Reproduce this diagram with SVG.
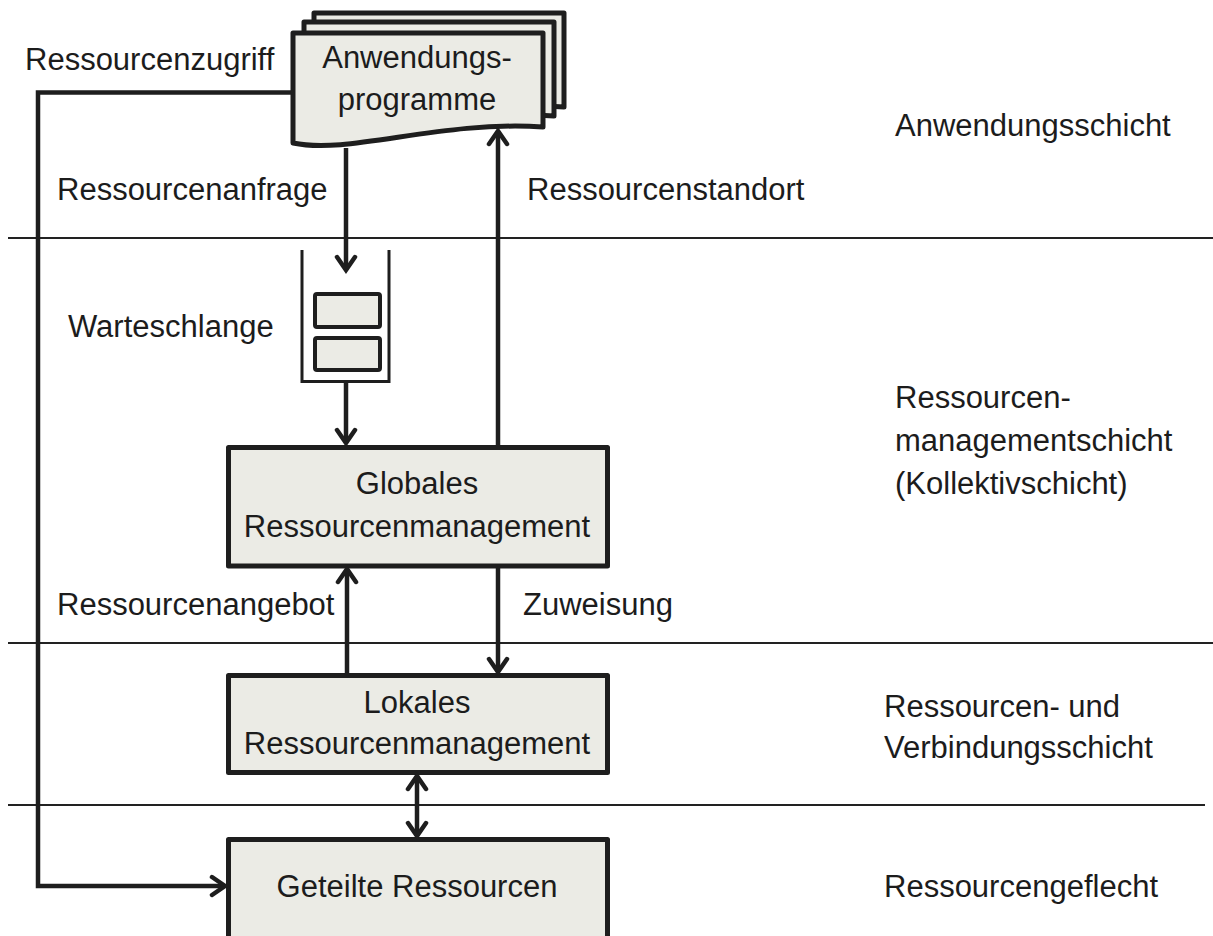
<svg xmlns="http://www.w3.org/2000/svg" width="1213" height="936" viewBox="0 0 1213 936">
<style>
  text { font-family: "Liberation Sans", Arial, sans-serif; font-size: 31px; fill: #1c1c1c; }
  .c { text-anchor: middle; }
  .box { fill: #ebebe5; stroke: #1e1e1e; stroke-width: 5; stroke-linejoin: round; }
  .sep { stroke: #222; stroke-width: 2; fill: none; }
  .conn { stroke: #1e1e1e; stroke-width: 4.5; fill: none; }
  .qbox { fill: #ebebe5; stroke: #1e1e1e; stroke-width: 4; }
  .q { stroke: #1e1e1e; stroke-width: 3; fill: none; }
</style>
<defs>
  <marker id="ah" markerUnits="userSpaceOnUse" viewBox="-16 -12 20 24" refX="0" refY="0" markerWidth="20" markerHeight="24" orient="auto-start-reverse">
    <path d="M-13,-9 L0,0 L-13,9" fill="none" stroke="#1e1e1e" stroke-width="4.5" stroke-linejoin="miter" stroke-linecap="round"/>
  </marker>
</defs>

<g id="layer-lines">
  <line class="sep" x1="8" y1="238" x2="1213" y2="238"/>
  <line class="sep" x1="8" y1="643" x2="1213" y2="643"/>
  <line class="sep" x1="8" y1="805" x2="1205" y2="805"/>
</g>

<g id="layer-labels">
  <text x="895" y="136">Anwendungsschicht</text>
  <text x="895" y="408">Ressourcen-</text>
  <text x="895" y="451">managementschicht</text>
  <text x="895" y="494">(Kollektivschicht)</text>
  <text x="884" y="717">Ressourcen- und</text>
  <text x="884" y="758">Verbindungsschicht</text>
  <text x="884" y="897">Ressourcengeflecht</text>
</g>

<g id="anwendungsprogramme">
  <path class="box" transform="translate(21,-20)" d="M293,33 H543 V127 C440,120 350,155 293,143 Z"/>
  <path class="box" transform="translate(11,-11)" d="M293,33 H543 V127 C440,120 350,155 293,143 Z"/>
  <path class="box" d="M293,33 H543 V127 C440,120 350,155 293,143 Z"/>
  <text class="c" x="417" y="68">Anwendungs-</text>
  <text class="c" x="417" y="110">programme</text>
</g>

<g id="warteschlange">
  <path class="q" d="M302,250 V381.5 H389 V250"/>
  <rect class="qbox" x="315" y="294" width="65" height="33" rx="2"/>
  <rect class="qbox" x="315" y="338" width="65" height="32" rx="2"/>
  <text x="68" y="337">Warteschlange</text>
</g>

<g id="globales">
  <rect class="box" x="228.5" y="447.5" width="379" height="118.5"/>
  <text class="c" x="417" y="494">Globales</text>
  <text class="c" x="417" y="537">Ressourcenmanagement</text>
</g>

<g id="lokales">
  <rect class="box" x="228.5" y="675.5" width="379" height="97"/>
  <text class="c" x="417" y="713">Lokales</text>
  <text class="c" x="417" y="754">Ressourcenmanagement</text>
</g>

<g id="geteilte">
  <rect class="box" x="228.5" y="839.5" width="379" height="110"/>
  <text class="c" x="417" y="897">Geteilte Ressourcen</text>
</g>

<g id="connectors">
  <path class="conn" d="M293,92.5 H38 V886 H225" marker-end="url(#ah)"/>
  <line class="conn" x1="346" y1="148" x2="346" y2="270" marker-end="url(#ah)"/>
  <line class="conn" x1="346" y1="381.5" x2="346" y2="443" marker-end="url(#ah)"/>
  <line class="conn" x1="498" y1="447" x2="498" y2="131" marker-end="url(#ah)"/>
  <line class="conn" x1="347" y1="675" x2="347" y2="569" marker-end="url(#ah)"/>
  <line class="conn" x1="498" y1="566" x2="498" y2="672" marker-end="url(#ah)"/>
  <line class="conn" x1="417" y1="776" x2="417" y2="836" marker-start="url(#ah)" marker-end="url(#ah)"/>
</g>

<g id="connector-labels">
  <text x="25" y="70">Ressourcenzugriff</text>
  <text x="57" y="200">Ressourcenanfrage</text>
  <text x="527" y="200">Ressourcenstandort</text>
  <text x="57" y="615">Ressourcenangebot</text>
  <text x="523" y="615">Zuweisung</text>
</g>
</svg>
